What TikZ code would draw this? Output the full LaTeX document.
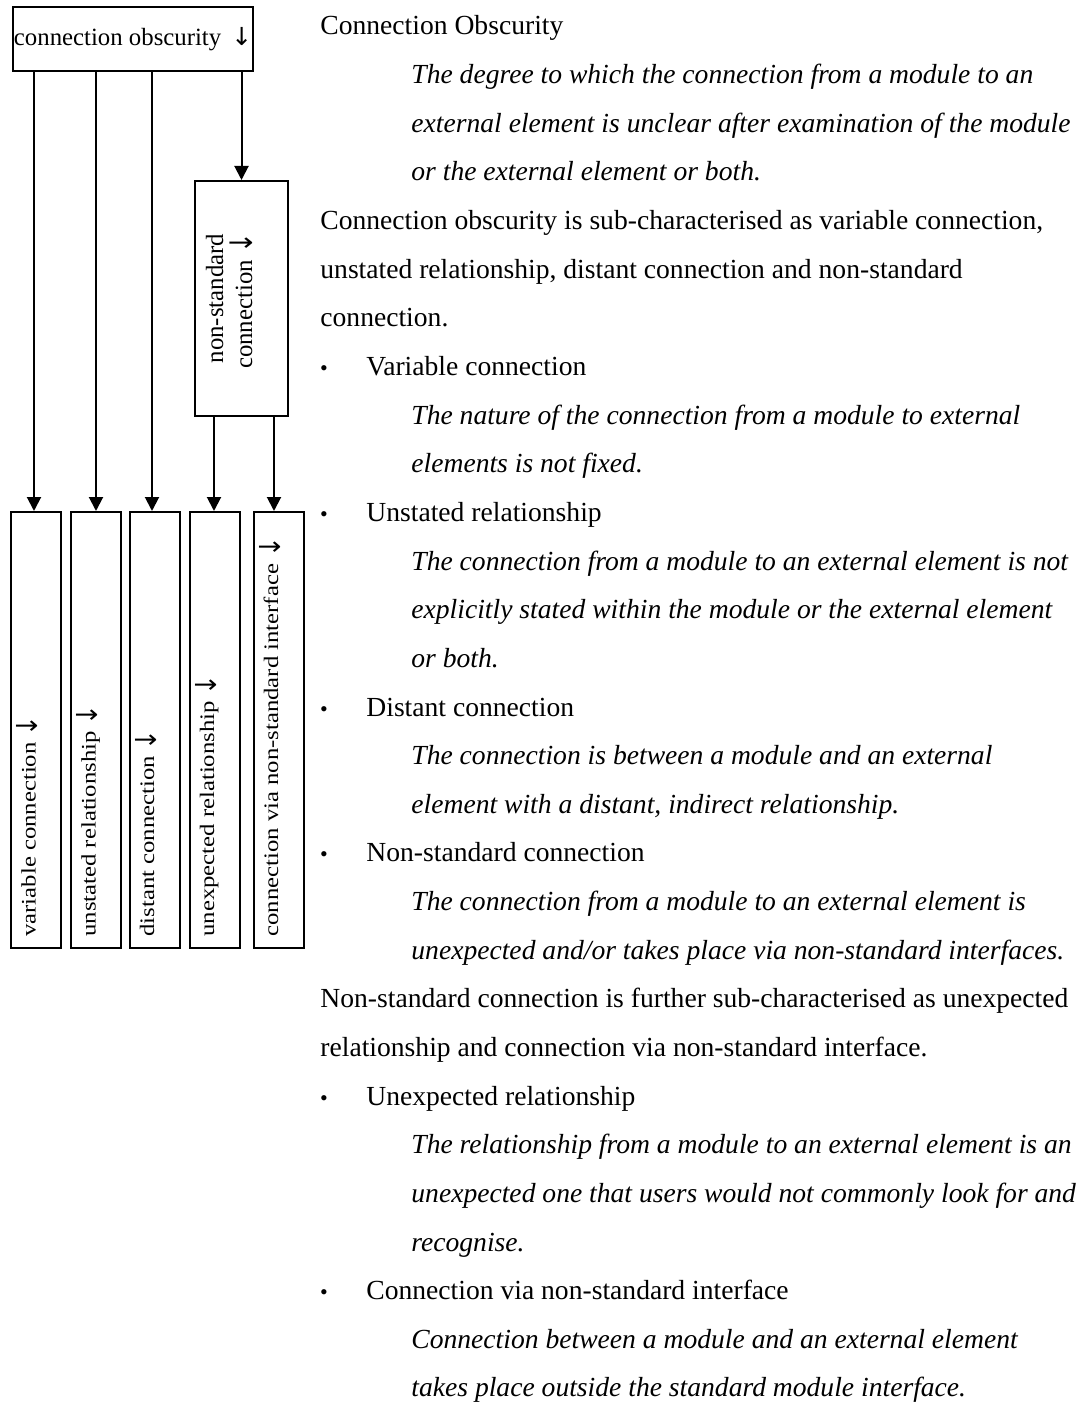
\documentclass[tikz,border=0pt]{standalone}
\usepackage{fontspec}
\setmainfont{Liberation Serif}
\newfontfamily\arrowfont{DejaVu Sans}
\usetikzlibrary{arrows.meta}
\begin{document}
\begin{tikzpicture}[x=0.5pt,y=-0.5pt,
  box/.style={draw, line width=1pt, inner sep=0pt, fill=white},
  arr/.style={line width=1pt, -{Triangle[length=7pt,width=7pt]}},
  leaf/.style={box, minimum width=25pt, minimum height=218pt},
  leaftext/.style={rotate=90, anchor=base west, inner sep=0pt,
    font=\fontsize{10.3}{12}\selectfont},
  vlabel/.style={rotate=90, anchor=base, inner sep=0pt,
    font=\fontsize{12.4}{14.5}\selectfont},
  body/.style={anchor=base west, inner sep=0pt, font=\fontsize{13.8}{16}\selectfont},
  defn/.style={body, font=\fontsize{13.8}{16}\selectfont\itshape},
  dot/.style={anchor=base, inner sep=0pt, font=\fontsize{11}{12}\selectfont}]
\useasboundingbox (0,0) rectangle (1081,1406);

% down arrow glyph, stretched by the given factors
\newcommand{\darrow}[2]{\scalebox{#1}[#2]{\arrowfont ↓}}
% leaf label: widened text followed by a tall arrow
\newcommand{\leaflabel}[1]{\scalebox{1.2}[1]{#1}\hspace{3pt}\raisebox{-1pt}{\darrow{1.2}{1.4}}}

% ---- tree on the left ----
\node[box, minimum width=120pt, minimum height=32pt,
      font=\fontsize{12.4}{14}\selectfont] (top) at (133,39)
  {connection obscurity\hspace{5pt}\darrow{1}{1}};

\node[box, minimum width=46.5pt, minimum height=117.5pt] (nsc) at (241.5,298.5) {};
\node[vlabel] (nscA) at (223,298.5) {non-standard};
\node[vlabel] (nscB) at (252,301)   {connection \darrow{1}{1.25}};

\node[leaf] (vc) at (36,730)    {};
\node[leaf] (ur) at (96,730)    {};
\node[leaf] (dc) at (154.5,730) {};
\node[leaf] (xr) at (214.5,730) {};
\node[leaf] (ci) at (278.5,730) {};

\node[leaftext] (vcL) at (35.5,937)  {\leaflabel{variable connection}};
\node[leaftext] (urL) at (95.5,937)  {\leaflabel{unstated relationship}};
\node[leaftext] (dcL) at (154,937)   {\leaflabel{distant connection}};
\node[leaftext] (xrL) at (214,937)   {\leaflabel{unexpected relationship}};
\node[leaftext] (ciL) at (278,937)   {\leaflabel{connection via non-standard interface}};

\draw[arr] ([xshift=-1pt]vc.north |- top.south) -- ([xshift=-1pt]vc.north);
\draw[arr] (ur.north |- top.south) -- (ur.north);
\draw[arr] ([xshift=-1.25pt]dc.north |- top.south) -- ([xshift=-1.25pt]dc.north);
\draw[arr] (nsc.north |- top.south) -- (nsc.north);
\draw[arr] ([xshift=-0.25pt]xr.north |- nsc.south) -- ([xshift=-0.25pt]xr.north);
\draw[arr] ([xshift=-2.25pt]ci.north |- nsc.south) -- ([xshift=-2.25pt]ci.north);

% ---- definitions on the right ----
\node[body] (l1)  at (320,35)     {Connection Obscurity};
\node[defn] (l2)  at (411,83.6)   {The degree to which the connection from a module to an};
\node[defn] (l3)  at (411,132.3)  {external element is unclear after examination of the module};
\node[defn] (l4)  at (411,180.9)  {or the external element or both.};
\node[body] (l5)  at (320,229.6)  {Connection obscurity is sub-characterised as variable connection,};
\node[body] (l6)  at (320,278.2)  {unstated relationship, distant connection and non-standard};
\node[body] (l7)  at (320,326.8)  {connection.};
\node[dot]  (b8)  at (324,375.5)  {•};
\node[body] (l8)  at (366,375.5)  {Variable connection};
\node[defn] (l9)  at (411,424.1)  {The nature of the connection from a module to external};
\node[defn] (l10) at (411,472.8)  {elements is not fixed.};
\node[dot]  (b11) at (324,521.4)  {•};
\node[body] (l11) at (366,521.4)  {Unstated relationship};
\node[defn] (l12) at (411,570.0)  {The connection from a module to an external element is not};
\node[defn] (l13) at (411,618.7)  {explicitly stated within the module or the external element};
\node[defn] (l14) at (411,667.3)  {or both.};
\node[dot]  (b15) at (324,716.0)  {•};
\node[body] (l15) at (366,716.0)  {Distant connection};
\node[defn] (l16) at (411,764.6)  {The connection is between a module and an external};
\node[defn] (l17) at (411,813.2)  {element with a distant, indirect relationship.};
\node[dot]  (b18) at (324,861.9)  {•};
\node[body] (l18) at (366,861.9)  {Non-standard connection};
\node[defn] (l19) at (411,910.5)  {The connection from a module to an external element is};
\node[defn] (l20) at (411,959.2)  {unexpected and/or takes place via non-standard interfaces.};
\node[body] (l21) at (320,1007.8) {Non-standard connection is further sub-characterised as unexpected};
\node[body] (l22) at (320,1056.4) {relationship and connection via non-standard interface.};
\node[dot]  (b23) at (324,1105.1) {•};
\node[body] (l23) at (366,1105.1) {Unexpected relationship};
\node[defn] (l24) at (411,1153.7) {The relationship from a module to an external element is an};
\node[defn] (l25) at (411,1202.4) {unexpected one that users would not commonly look for and};
\node[defn] (l26) at (411,1251.0) {recognise.};
\node[dot]  (b27) at (324,1299.6) {•};
\node[body] (l27) at (366,1299.6) {Connection via non-standard interface};
\node[defn] (l28) at (411,1348.3) {Connection between a module and an external element};
\node[defn] (l29) at (411,1396.9) {takes place outside the standard module interface.};
\end{tikzpicture}
\end{document}
